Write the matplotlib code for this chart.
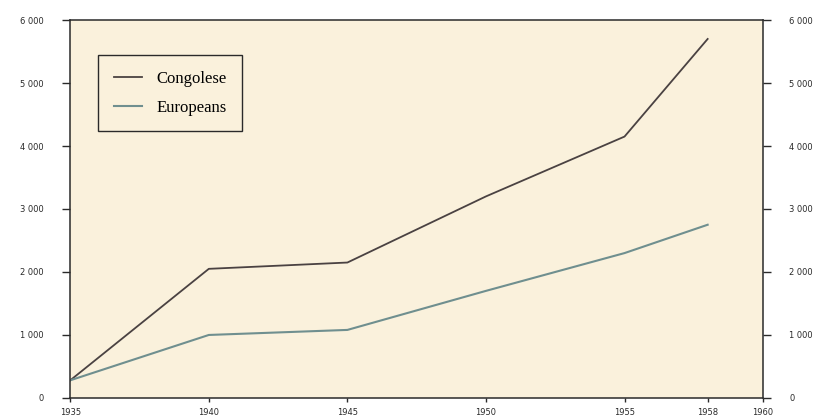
import matplotlib.pyplot as plt
from matplotlib.ticker import FuncFormatter

# data
years = [1935, 1940, 1945, 1950, 1955, 1958]
congolese = [280, 2050, 2150, 3200, 4150, 5700]
europeans = [280, 1000, 1080, 1700, 2300, 2750]

x_ticks = [1935, 1940, 1945, 1950, 1955, 1958, 1960]
y_ticks = [0, 1000, 2000, 3000, 4000, 5000, 6000]

fig = plt.figure(figsize=(8.17, 4.18), dpi=100)
fig.patch.set_facecolor('white')
ax = fig.add_axes([0.086, 0.048, 0.848, 0.904])
ax.set_facecolor('#faf1dc')

ax.plot(years, congolese, color='#4a4242', lw=1.3, label='Congolese')
ax.plot(years, europeans, color='#6f8f8f', lw=1.5, label='Europeans')

ax.set_xlim(1935, 1960)
ax.set_ylim(0, 6000)
ax.set_xticks(x_ticks)
ax.set_yticks(y_ticks)
ax.yaxis.set_major_formatter(FuncFormatter(lambda v, p: f'{int(v):,}'.replace(',', ' ')))

for s in ax.spines.values():
    s.set_color('#2a2a2a')
    s.set_linewidth(1.1)

ax.tick_params(axis='y', which='both', left=True, right=True, labelleft=True,
               labelright=True, direction='out', length=6, width=1.0,
               pad=13, labelsize=6, colors='#2a2a2a')
ax.tick_params(axis='x', direction='out', length=3, width=1, pad=4,
               labelsize=6, colors='#2a2a2a')

leg = ax.legend(loc='upper left', bbox_to_anchor=(0.04, 0.907), borderaxespad=0,
                prop={'family': 'Liberation Serif', 'size': 12},
                frameon=True, fancybox=False, edgecolor='#2a2a2a',
                facecolor='#faf1dc', framealpha=1, handlelength=1.7,
                handletextpad=0.85, labelspacing=0.75, borderpad=0.95)
leg.get_frame().set_linewidth(1.0)

fig.savefig('out.png', dpi=100)
